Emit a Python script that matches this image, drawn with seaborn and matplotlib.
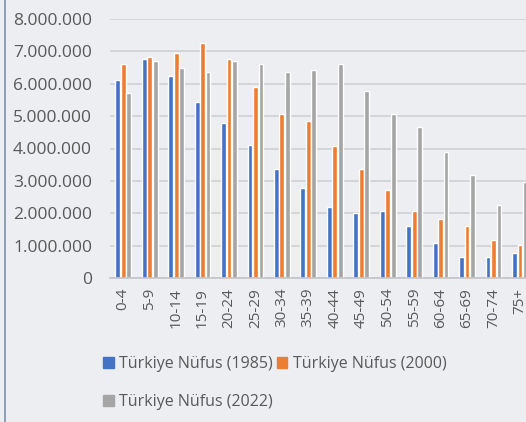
import matplotlib
matplotlib.use("Agg")
import matplotlib.pyplot as plt
from matplotlib.lines import Line2D
from matplotlib.patches import Patch
import pandas as pd
import seaborn as sns

# age groups and population per year
age_groups = ["0-4", "5-9", "10-14", "15-19", "20-24", "25-29", "30-34", "35-39",
              "40-44", "45-49", "50-54", "55-59", "60-64", "65-69", "70-74", "75+"]
pop_1985 = [6110000, 6750000, 6230000, 5450000, 4800000, 4100000, 3360000, 2790000,
            2200000, 2010000, 2070000, 1620000, 1090000, 640000, 640000, 770000]
pop_2000 = [6610000, 6820000, 6960000, 7270000, 6750000, 5900000, 5060000, 4860000,
            4090000, 3370000, 2710000, 2070000, 1820000, 1610000, 1170000, 1020000]
pop_2022 = [5700000, 6690000, 6480000, 6360000, 6690000, 6610000, 6360000, 6420000,
            6610000, 5770000, 5060000, 4670000, 3880000, 3180000, 2260000, 2980000]
series = ["Türkiye Nüfus (1985)", "Türkiye Nüfus (2000)", "Türkiye Nüfus (2022)"]
colors = ["#4472C4", "#ED7D31", "#A5A5A5"]
y_ticks = [0, 1000000, 2000000, 3000000, 4000000, 5000000, 6000000, 7000000, 8000000]

df = pd.DataFrame({
    "yas": age_groups * 3,
    "nufus": pop_1985 + pop_2000 + pop_2022,
    "seri": [series[0]] * 16 + [series[1]] * 16 + [series[2]] * 16,
})

sns.set_style("white")
plt.rcParams['font.family'] = ['Open Sans', 'DejaVu Sans']
bg = "#EDEEF2"
txt = "#595959"

fig = plt.figure(figsize=(5.26, 4.22), dpi=100, facecolor=bg)
ax = fig.add_axes([110 / 526, 144 / 422, 416 / 526, 259 / 422], facecolor=bg)

sns.barplot(data=df, x="yas", y="nufus", hue="seri", palette=colors,
            width=0.62, gap=0.12, saturation=1, legend=False, ax=ax)

ax.set_ylim(0, 8000000)
ax.set_xlim(-0.5, 15.23)
ax.set_yticks(y_ticks)
ax.set_yticklabels([f"{v:,}".replace(",", ".") for v in y_ticks])
ax.yaxis.grid(True, color="#D0D0D4", lw=1.2)
ax.set_axisbelow(True)
for s in ["top", "right", "left"]:
    ax.spines[s].set_visible(False)
ax.spines["bottom"].set_color("#C4C4C8")
ax.spines["bottom"].set_linewidth(1.2)
ax.tick_params(axis="y", length=0, pad=13, labelsize=12.5, labelcolor=txt)
ax.tick_params(axis="x", length=0, pad=7, labelsize=11, labelcolor=txt, labelrotation=90)
ax.set_xlabel("")
ax.set_ylabel("")

handles = [Patch(color=c) for c in colors]
order = [0, 2, 1]
fig.legend([handles[i] for i in order], [series[i] for i in order],
           loc="upper left", bbox_to_anchor=(89 / 526, 1 - 342 / 422), ncol=2,
           frameon=False, handlelength=0.65, handleheight=0.65, handletextpad=0.35,
           columnspacing=0.25, labelspacing=1.38, fontsize=11.5, labelcolor=txt)

fig.add_artist(Line2D([4.5 / 526, 4.5 / 526], [0, 1], color="#8497B0", lw=1.3))

fig.savefig("out.png", dpi=100, facecolor=bg)
